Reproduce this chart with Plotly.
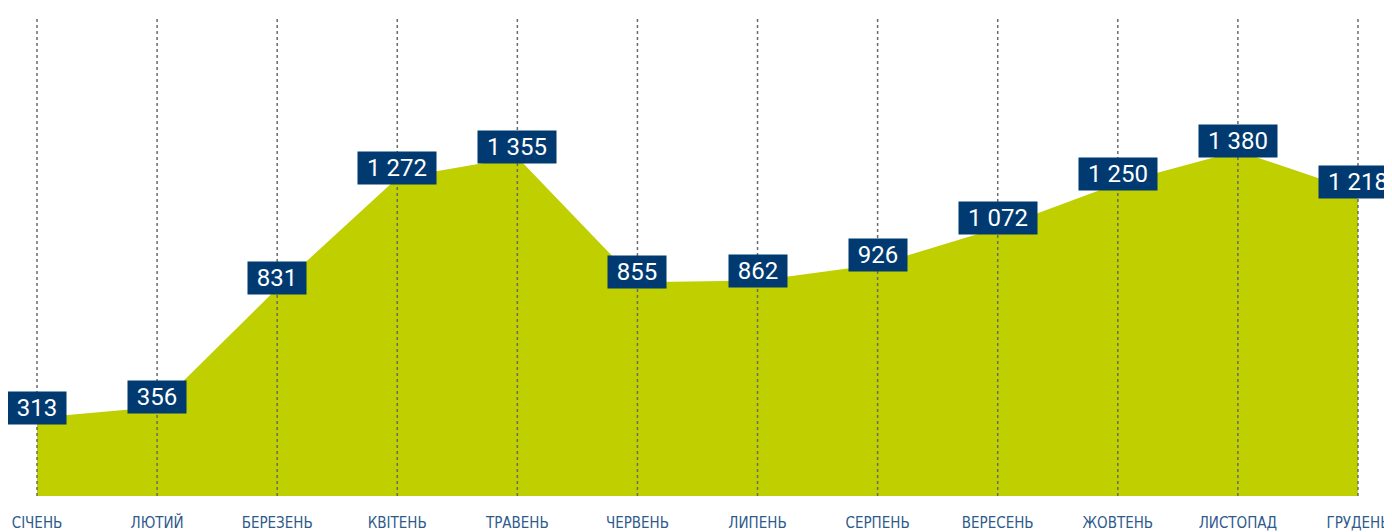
import plotly.graph_objects as go

months = ['СІЧЕНЬ', 'ЛЮТИЙ', 'БЕРЕЗЕНЬ', 'КВІТЕНЬ', 'ТРАВЕНЬ', 'ЧЕРВЕНЬ',
          'ЛИПЕНЬ', 'СЕРПЕНЬ', 'ВЕРЕСЕНЬ', 'ЖОВТЕНЬ', 'ЛИСТОПАД', 'ГРУДЕНЬ']
values = [313, 356, 831, 1272, 1355, 855, 862, 926, 1072, 1250, 1380, 1218]
labels = ['313', '356', '831', '1 272', '1 355', '855', '862', '926', '1 072', '1 250', '1 380', '1 218']

y_min = -8
y_max = 1920
x_pos = list(range(len(months)))

fig = go.Figure()

# green area
fig.add_trace(go.Scatter(
    x=x_pos, y=values, mode='lines', fill='tozeroy',
    fillcolor='#bfcf00', line=dict(color='#bfcf00', width=0),
    hoverinfo='skip'
))

# dotted vertical lines over the area
gx, gy = [], []
for i in x_pos:
    gx += [i, i, None]
    gy += [0, y_max, None]
fig.add_trace(go.Scatter(
    x=gx, y=gy, mode='lines',
    line=dict(color='#6b6b6b', width=1.5, dash='dot'),
    hoverinfo='skip'
))

# value boxes
for i, v, t in zip(x_pos, values, labels):
    fig.add_annotation(
        x=i, y=v, text=t, showarrow=False, yanchor='middle', yshift=10,
        font=dict(family='Roboto', size=24, color='white'),
        bgcolor='#003a70', borderpad=0,
        width=58 if len(t) <= 3 else 78, height=32
    )

# page body has an 8px margin, so the plot area is shifted back by that
fig.update_layout(
    width=1392, height=532,
    margin=dict(l=0, r=0, t=8, b=42),
    plot_bgcolor='white',
    paper_bgcolor='white',
    showlegend=False,
    xaxis=dict(
        range=[-0.2415, 11.35], tickmode='array', tickvals=x_pos, ticktext=months,
        showgrid=False, zeroline=False, showline=False,
        ticks='outside', ticklen=11, tickcolor='rgba(0,0,0,0)',
        tickfont=dict(family='DejaVu Sans Condensed, Roboto', size=15, color='#2e5a8c')
    ),
    yaxis=dict(range=[y_min, y_max], visible=False)
)

fig.write_html("out.html")
